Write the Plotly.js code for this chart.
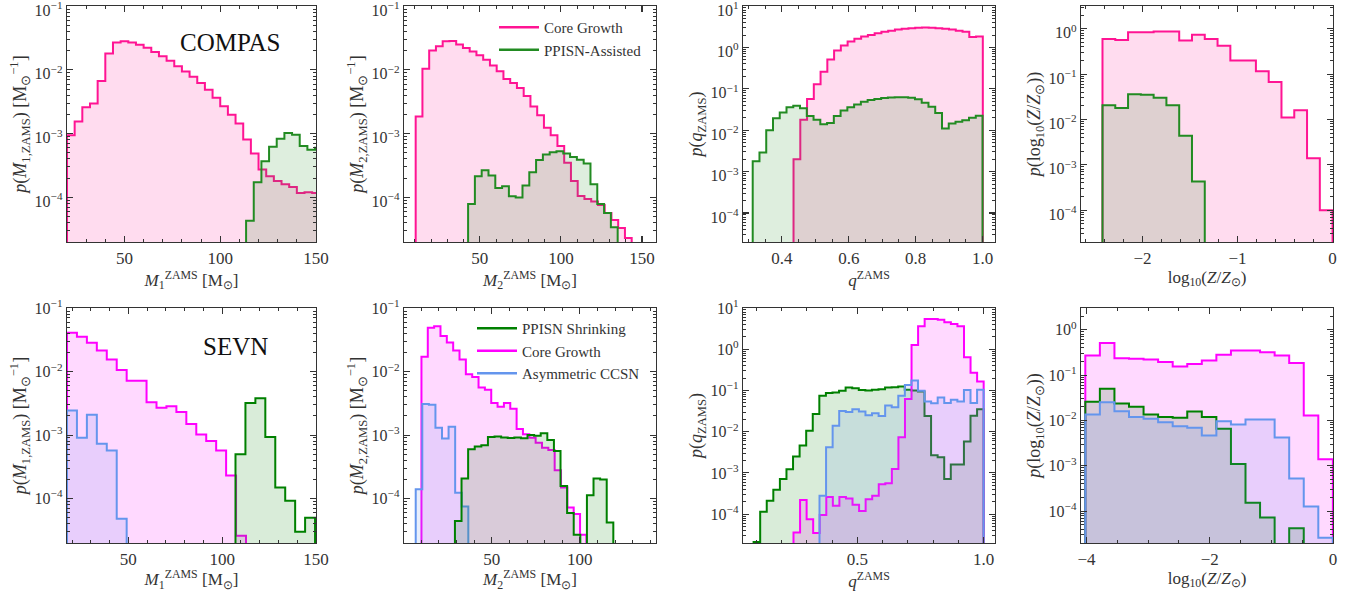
<!DOCTYPE html>
<html>
<head>
<meta charset="utf-8">
<script src="https://cdn.plot.ly/plotly-3.0.1.min.js"></script>
<style>html,body{margin:0;padding:0;background:#fff}#chart{width:1361px;height:592px}</style>
</head>
<body>
<div id="chart"></div>
<script>
// ---------------- DATA ----------------
// Panel 1: COMPAS primary mass
const m1c_cg_start = 20, m1c_cg_width = 4;
const m1c_cg = [9.4e-4,1.55e-3,2.6e-3,2.96e-3,6.7e-3,1.8e-2,2.7e-2,2.8e-2,2.7e-2,2.48e-2,2.22e-2,1.9e-2,1.64e-2,1.39e-2,1.14e-2,9.4e-3,7.8e-3,6.2e-3,4.9e-3,3.65e-3,2.7e-3,1.97e-3,1.44e-3,8.1e-4,4.9e-4,2.73e-4,2.15e-4,1.8e-4,1.6e-4,1.45e-4,1.17e-4,1.2e-4,1.17e-4];
const m1c_pp_start = 113.5, m1c_pp_width = 4;
const m1c_pp = [4.3e-5,1.73e-4,3.7e-4,6.2e-4,8.3e-4,1.02e-3,9.6e-4,6.4e-4,5.6e-4,6.0e-4];

// Panel 2: COMPAS secondary mass
const m2c_cg_start = 10.5, m2c_cg_width = 4.16;
const m2c_cg = [1.86e-3,1.04e-2,2.02e-2,2.34e-2,2.8e-2,2.85e-2,2.5e-2,2.2e-2,1.94e-2,1.69e-2,1.44e-2,1.17e-2,9.5e-3,7.2e-3,6.2e-3,5.2e-3,3.9e-3,2.66e-3,1.94e-3,1.24e-3,9.4e-4,6.4e-4,3.5e-4,1.8e-4,1.05e-4,9.4e-5,8.6e-5,7.6e-5,5.7e-5,4.4e-5,3.3e-5,2.3e-5];
const m2c_pp_start = 42.8, m2c_pp_width = 4.19;
const m2c_pp = [7.9e-5,2.15e-4,2.66e-4,2.2e-4,1.4e-4,1.5e-4,1.04e-4,1.0e-4,1.53e-4,2.48e-4,3.84e-4,4.7e-4,5.1e-4,5.3e-4,4.9e-4,4.3e-4,3.9e-4,3.4e-4,1.6e-4,7.9e-5,5.7e-5,3.4e-5];

// Panel 3: COMPAS mass ratio
const qc_cg_start = 0.435, qc_cg_width = 0.0202;
const qc_cg = [2.0e-3,1.8e-2,5.7e-2,0.13,0.26,0.51,0.85,1.12,1.4,1.62,1.85,2.0,2.2,2.4,2.55,2.7,2.82,2.92,3.0,3.05,3.0,2.92,2.82,2.7,2.55,2.4,1.8,1.85];
const qc_pp_start = 0.313, qc_pp_width = 0.0202;
const qc_pp = [1.78e-3,2.9e-3,1.0e-2,1.95e-2,2.7e-2,3.6e-2,3.9e-2,3.4e-2,2.2e-2,1.8e-2,1.4e-2,1.5e-2,2.2e-2,3.0e-2,3.6e-2,4.2e-2,4.9e-2,5.4e-2,5.7e-2,6.0e-2,6.2e-2,6.3e-2,6.3e-2,6.1e-2,5.6e-2,4.6e-2,3.7e-2,2.6e-2,1.1e-2,1.45e-2,1.6e-2,1.75e-2,2.0e-2,2.25e-2];

// Panel 4: COMPAS metallicity
const zc_start = -2.42, zc_width = 0.13444;
const zc_cg = [0.59,0.56,0.83,0.84,0.87,0.87,0.55,0.74,0.59,0.42,0.2,0.2,0.115,0.067,0.011,0.016,1.4e-3,1.0e-4];
const zc_pp = [2.06e-2,1.8e-2,3.6e-2,3.5e-2,3.0e-2,2.06e-2,4.4e-3,4.3e-4];

// Panel 5: SEVN primary mass
const m1s_start = 17.3, m1s_width = 5.3;
const m1s_cg = [0.041,0.0355,0.0285,0.0215,0.0155,0.0106,7.2e-3,7.2e-3,3.3e-3,2.7e-3,2.85e-3,2.3e-3,1.5e-3,1.02e-3,8.1e-4,5.7e-4,2.3e-4,2.6e-5];
const m1s_cc = [2.45e-3,9.1e-4,2.1e-3,7.3e-4,5.7e-4,4.8e-5];
const m1s_pp_start = 107.1;
const m1s_pp = [5.0e-4,3.2e-3,3.8e-3,9.3e-4,1.5e-4,9.2e-5,3.0e-5,5.0e-5];

// Panel 6: SEVN secondary mass
const m2s_cg_start = 10.1, m2s_cg_width = 3.6;
const m2s_cg = [0.0172,0.049,0.052,0.0365,0.0287,0.0216,0.0155,9.1e-3,8.2e-3,5.6e-3,5.2e-3,3.2e-3,2.8e-3,3.2e-3,2.6e-3,1.25e-3,1.03e-3,9.1e-4,7.6e-4,6.3e-4,5.8e-4,2.8e-4,1.5e-4,7.2e-5,5.7e-5,2.7e-5];
const m2s_cc_start = 6.85, m2s_cc_width = 3.73;
const m2s_cc = [1.4e-4,3.1e-3,3.0e-3,1.3e-3,8.8e-4,1.35e-3,1.24e-4,7.5e-5];
const m2s_pp_start = 29.1, m2s_pp_width = 3.745;
const m2s_pp = [4.45e-5,2.07e-4,6.0e-4,6.6e-4,6.9e-4,9.3e-4,9.5e-4,9.2e-4,9.0e-4,9.2e-4,8.9e-4,1.0e-3,9.8e-4,1.07e-3,8.4e-4,5.6e-4,1.58e-4,5.9e-5,2.7e-5,0,1.13e-4,2.07e-4,2.0e-4,4.2e-5];

// Panel 7: SEVN mass ratio
const qs_pp_start = 0.089, qs_pp_width = 0.02603;
const qs_pp = [2.1e-5,1.15e-4,2.1e-4,3.9e-4,7.1e-4,1.23e-3,2.5e-3,4.6e-3,1.05e-2,2.7e-2,7.5e-2,8.7e-2,9.0e-2,9.9e-2,0.118,0.113,0.103,0.1,0.105,0.108,0.118,0.12,0.125,0.105,0.1,0.095,2.4e-2,2.7e-3,2.4e-3,7.1e-4,1.6e-3,1.6e-3,5.8e-3,2.45e-2,3.5e-2];
const qs_cg_start = 0.247, qs_cg_width = 0.02597;
const qs_cg = [3.6e-5,2.2e-4,7.5e-5,3.5e-5,9.5e-5,2.6e-4,1.6e-4,2.6e-4,2.4e-4,1.7e-4,1.2e-4,2.3e-4,2.8e-4,5.3e-4,5.6e-4,1.25e-3,7.3e-3,6.2e-2,1.27,3.6,5.4,5.4,5.2,4.5,4.1,3.6,0.64,0.27,0.165];
const qs_cc_start = 0.35, qs_cc_width = 0.026;
const qs_cc = [2.8e-4,4.2e-3,1.4e-2,3.2e-2,3.0e-2,3.5e-2,3.1e-2,2.5e-2,2.8e-2,2.4e-2,4.3e-2,3.9e-2,7.5e-2,0.136,0.174,0.099,5.4e-2,4.9e-2,6.8e-2,5.0e-2,6.0e-2,5.4e-2,0.103,5.0e-2,0.105];

// Panel 8: SEVN metallicity
const zs_start = -4.02, zs_width = 0.23647;
const zs_cg = [0.27,0.51,0.235,0.23,0.22,0.195,0.156,0.175,0.21,0.28,0.35,0.35,0.32,0.27,0.185,0.0129,1.4e-3];
const zs_pp = [0.026,0.050,0.0236,0.020,0.0136,0.012,0.0115,0.0157,0.012,6.6e-3,1.1e-3,1.54e-4,7.3e-5,0,4.2e-5,0,0];
const zs_cc = [0.0136,0.0253,0.016,0.012,0.0109,9.2e-3,7.5e-3,6.9e-3,4.7e-3,9.6e-3,8.2e-3,0.0105,0.0105,4.2e-3,5.3e-4,1.27e-4,2.6e-5];

// Text
const legendTop = ["Core Growth", "PPISN-Assisted"];
const legendBottom = ["PPISN Shrinking", "Core Growth", "Asymmetric CCSN"];
const codeLabels = ["COMPAS", "SEVN"];
const logTickVals = [1e-5,1e-4,1e-3,1e-2,1e-1,1,10];
const logTickText = ["10<sup>−5</sup>","10<sup>−4</sup>","10<sup>−3</sup>","10<sup>−2</sup>","10<sup>−1</sup>","10<sup>0</sup>","10<sup>1</sup>"];

// ---------------- STYLE ----------------
const FONT = "Liberation Serif, Times New Roman, serif";
const PINK = "#FF1493", GREEN_T = "#228B22", MAG = "#FF00FF", GREEN_B = "#008000", BLUE = "#6495ED";
const FLOOR = 1e-12;
function rgba(hex, a){const n=parseInt(hex.slice(1),16);return `rgba(${n>>16},${(n>>8)&255},${n&255},${a})`;}

function stepTrace(start, width, vals, color, axisIdx){
  const x=[start], y=[FLOOR];
  vals.forEach((v,i)=>{x.push(start+i*width); y.push(v>0?v:FLOOR);});
  const end = start+vals.length*width, last = vals[vals.length-1];
  x.push(end); y.push(last>0?last:FLOOR);
  x.push(end); y.push(FLOOR);
  const s = axisIdx===1?'':String(axisIdx);
  return {x:x, y:y, type:'scatter', mode:'lines', line:{shape:'hv', color:color, width:2},
    fill:'toself', fillcolor:rgba(color,0.15), xaxis:'x'+s, yaxis:'y'+s, showlegend:false, hoverinfo:'skip'};
}

const traces = [
  stepTrace(m1c_cg_start, m1c_cg_width, m1c_cg, PINK, 1),
  stepTrace(m1c_pp_start, m1c_pp_width, m1c_pp, GREEN_T, 1),
  stepTrace(m2c_cg_start, m2c_cg_width, m2c_cg, PINK, 2),
  stepTrace(m2c_pp_start, m2c_pp_width, m2c_pp, GREEN_T, 2),
  stepTrace(qc_cg_start, qc_cg_width, qc_cg, PINK, 3),
  stepTrace(qc_pp_start, qc_pp_width, qc_pp, GREEN_T, 3),
  stepTrace(zc_start, zc_width, zc_cg, PINK, 4),
  stepTrace(zc_start, zc_width, zc_pp, GREEN_T, 4),
  stepTrace(m1s_start, m1s_width, m1s_cg, MAG, 5),
  stepTrace(m1s_start, m1s_width, m1s_cc, BLUE, 5),
  stepTrace(m1s_pp_start, m1s_width, m1s_pp, GREEN_B, 5),
  stepTrace(m2s_cg_start, m2s_cg_width, m2s_cg, MAG, 6),
  stepTrace(m2s_cc_start, m2s_cc_width, m2s_cc, BLUE, 6),
  stepTrace(m2s_pp_start, m2s_pp_width, m2s_pp, GREEN_B, 6),
  stepTrace(qs_pp_start, qs_pp_width, qs_pp, GREEN_B, 7),
  stepTrace(qs_cg_start, qs_cg_width, qs_cg, MAG, 7),
  stepTrace(qs_cc_start, qs_cc_width, qs_cc, BLUE, 7),
  stepTrace(zs_start, zs_width, zs_cg, MAG, 8),
  stepTrace(zs_start, zs_width, zs_pp, GREEN_B, 8),
  stepTrace(zs_start, zs_width, zs_cc, BLUE, 8),
];
// legend entries (line only)
function legTrace(name, color, leg, ax){
  return {x:[null], y:[null], type:'scatter', mode:'lines', name:name, line:{color:color, width:2.5},
    legend:leg, xaxis:ax[0], yaxis:ax[1], showlegend:true, hoverinfo:'skip'};
}
traces.push(legTrace(legendTop[0], PINK, 'legend', ['x2','y2']));
traces.push(legTrace(legendTop[1], GREEN_T, 'legend', ['x2','y2']));
traces.push(legTrace(legendBottom[0], GREEN_B, 'legend2', ['x6','y6']));
traces.push(legTrace(legendBottom[1], MAG, 'legend2', ['x6','y6']));
traces.push(legTrace(legendBottom[2], BLUE, 'legend2', ['x6','y6']));

// minor log ticks
const minorLog = [];
for(let d=-6; d<=1; d++){ for(let k=2;k<=9;k++){ minorLog.push(k*Math.pow(10,d)); } }

const W=1361, H=592;
const colX = [[67,316],[404,656],[743,995],[1081,1333]];
const rowY = [[6,242],[308,543]];

const yTitleM1 = "<i>p</i>(<i>M</i><sub>1,ZAMS</sub>) [M<sub>⊙</sub><sup>−1</sup>]";
const yTitleM2 = "<i>p</i>(<i>M</i><sub>2,ZAMS</sub>) [M<sub>⊙</sub><sup>−1</sup>]";
const yTitleQ = "<i>p</i>(<i>q</i><sub>ZAMS</sub>)";
const yTitleZ = "<i>p</i>(log<sub>10</sub>(<i>Z</i>/<i>Z</i><sub>⊙</sub>))";
const xTitleM1 = "<i>M</i><sub>1</sub><sup>ZAMS</sup> [M<sub>⊙</sub>]";
const xTitleM2 = "<i>M</i><sub>2</sub><sup>ZAMS</sup> [M<sub>⊙</sub>]";
const xTitleQ = "<i>q</i><sup>ZAMS</sup>";
const xTitleZ = "log<sub>10</sub>(<i>Z</i>/<i>Z</i><sub>⊙</sub>)";

const panels = [
  {xr:[20,150], yr:[-4.7,-0.998], dt:50, mdt:10, fmt:'', xt:xTitleM1, yt:yTitleM1},
  {xr:[3.3,158.6], yr:[-4.7,-0.998], dt:50, mdt:10, fmt:'', xt:xTitleM2, yt:yTitleM2},
  {xr:[0.284,1.037], yr:[-4.7,1.002], dt:0.2, mdt:0.05, fmt:'.1f', xt:xTitleQ, yt:yTitleQ},
  {xr:[-2.646,0.004], yr:[-4.7,0.5], dt:1, mdt:0.2, fmt:'', xt:xTitleZ, yt:yTitleZ},
  {xr:[17.3,150.01], yr:[-4.7,-0.998], dt:50, mdt:10, fmt:'', xt:xTitleM1, yt:yTitleM1},
  {xr:[0.2,143.2], yr:[-4.7,-0.998], dt:50, mdt:10, fmt:'', xt:xTitleM2, yt:yTitleM2},
  {xr:[0.047,1.045], yr:[-4.7,1.002], dt:0.5, mdt:0.1, fmt:'.1f', xt:xTitleQ, yt:yTitleQ},
  {xr:[-4.09,0.002], yr:[-4.7,0.48], dt:2, mdt:0.5, fmt:'', xt:xTitleZ, yt:yTitleZ},
];

const layout = {
  width:W, height:H, margin:{l:0,r:0,t:0,b:0}, paper_bgcolor:'#fff', plot_bgcolor:'#fff',
  font:{family:FONT, size:17, color:'#222'}, showlegend:true,
  legend:{x:494/W, y:1-11/H, xanchor:'left', yanchor:'top', bgcolor:'rgba(0,0,0,0)', borderwidth:0,
    font:{family:FONT,size:15,color:'#333'}, itemwidth:40, tracegroupgap:0},
  legend2:{x:472/W, y:1-312/H, xanchor:'left', yanchor:'top', bgcolor:'rgba(0,0,0,0)', borderwidth:0,
    font:{family:FONT,size:15,color:'#333'}, itemwidth:40, tracegroupgap:0},
  annotations:[
    {text:codeLabels[0], xref:'paper', yref:'paper', x:231/W, y:1-43/H, xanchor:'center', yanchor:'middle', showarrow:false, font:{family:FONT,size:25,color:'#111'}},
    {text:codeLabels[1], xref:'paper', yref:'paper', x:235/W, y:1-346/H, xanchor:'center', yanchor:'middle', showarrow:false, font:{family:FONT,size:25,color:'#111'}},
  ],
};

panels.forEach((p,i)=>{
  const col=i%4, row=Math.floor(i/4), s=i===0?'':String(i+1);
  const common = {showline:true, linecolor:'#333', linewidth:1.3, mirror:'allticks', ticks:'inside',
    ticklen:6, tickwidth:1.1, tickcolor:'#333', showgrid:false, zeroline:false, ticklabeloverflow:'allow',
    tickfont:{family:FONT,size:17,color:'#333'}};
  layout['xaxis'+s] = Object.assign({}, common, {
    domain:[colX[col][0]/W, colX[col][1]/W], anchor:'y'+s, range:p.xr, dtick:p.dt, tick0:0,
    tickformat:p.fmt, title:{text:p.xt, font:{family:FONT,size:17,color:'#333'}, standoff:2},
    minor:{ticks:'inside', ticklen:3, tickwidth:1, tickcolor:'#333', dtick:p.mdt, tick0:0, showgrid:false}
  });
  layout['yaxis'+s] = Object.assign({}, common, {
    domain:[1-rowY[row][1]/H, 1-rowY[row][0]/H], anchor:'x'+s, type:'log', range:p.yr,
    tickmode:'array', tickvals:logTickVals, ticktext:logTickText,
    tickfont:{family:FONT,size:16,color:'#333'}, ticklabelshift: row===0 ? 4 : 0,
    title:{text:p.yt, font:{family:FONT,size:18,color:'#333'}, standoff:3},
    minor:{ticks:'inside', ticklen:3, tickwidth:1, tickcolor:'#333', tickmode:'array', tickvals:minorLog, showgrid:false}
  });
});

Plotly.newPlot('chart', traces, layout, {staticPlot:true, displayModeBar:false});
</script>
</body>
</html>
